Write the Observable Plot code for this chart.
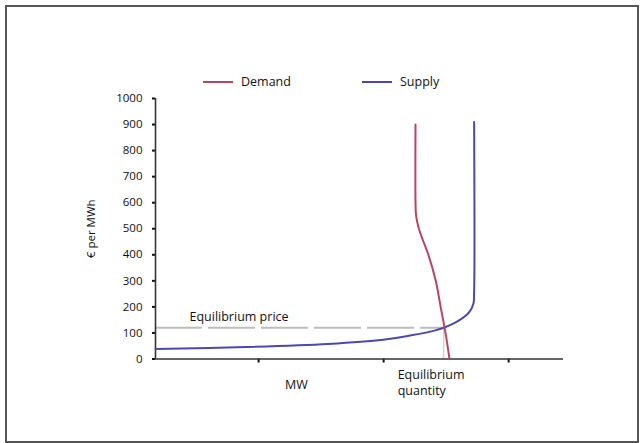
<!DOCTYPE html>
<html>
<head>
<meta charset="utf-8">
<script src="https://cdn.jsdelivr.net/npm/d3@7"></script>
<script src="https://cdn.jsdelivr.net/npm/@observablehq/plot@0.6"></script>
<style>
  html, body { margin: 0; padding: 0; background: #fff; }
  body { width: 642px; height: 443px; position: relative; overflow: hidden; font-family: "Open Sans", sans-serif; }
  #chart { position: absolute; left: 0; top: 0; }
  #frame { position: absolute; left: 5px; top: 5px; width: 630px; height: 434px; border: 2px solid #555; box-sizing: content-box; pointer-events: none; }
  .legend { position: absolute; top: 73px; font-size: 12.5px; color: #111; display: flex; align-items: center; }
  .legend .sw { display: inline-block; width: 30px; height: 0; border-top: 2.5px solid; margin-right: 8px; }
</style>
</head>
<body>
<div id="chart"></div>
<div id="frame"></div>
<div class="legend" id="leg-demand" style="left:203px"><span class="sw"></span><span class="lbl"></span></div>
<div class="legend" id="leg-supply" style="left:362px"><span class="sw"></span><span class="lbl"></span></div>
<script>
// Series names and colours
const seriesNames = ["Demand", "Supply"];
const seriesColors = ["#b9455f", "#4b47b3"];

// Demand curve: quantity (MW) and price (€ per MWh)
const demandMW    = [2080, 2080, 2083, 2092, 2107, 2140, 2183, 2242, 2281, 2320, 2352];
const demandPrice = [ 900,  600,  560,  530,  500,  455,  400,  300,  200,  100,    0];

// Supply curve: quantity (MW) and price (€ per MWh)
const supplyMW    = [   0,  725, 1380, 1822, 2035, 2232, 2312, 2428, 2510, 2543, 2549, 2549];
const supplyPrice = [  38,   46,   58,   74,   90,  109,  121,  148,  180,  212,  260,  910];

// Equilibrium
const eqPrice = 120;
const eqQuantity = 2305;

// Axis ticks
const yTicks = [0, 100, 200, 300, 400, 500, 600, 700, 800, 900, 1000];
const xTicks = [825, 1825, 2825];
const xDomain = [0, 3264];
const yDomain = [0, 1000];

const demand = demandMW.map((q, i) => ({q, p: demandPrice[i]}));
const supply = supplyMW.map((q, i) => ({q, p: supplyPrice[i]}));

const font = "Open Sans, sans-serif";

const chart = Plot.plot({
  width: 642,
  height: 443,
  marginLeft: 155,
  marginRight: 79,
  marginTop: 98,
  marginBottom: 84.5,
  style: {fontFamily: font, background: "transparent", overflow: "visible"},
  x: {domain: xDomain},
  y: {domain: yDomain},
  marks: [
    Plot.ruleY([eqPrice], {x1: 0, x2: eqQuantity, stroke: "#bdbdbd", strokeWidth: 2, strokeDasharray: "47,6"}),
    Plot.ruleX([eqQuantity], {y1: 0, y2: eqPrice, stroke: "#d0d0d0", strokeWidth: 1.5}),
    Plot.axisY({ticks: yTicks, tickSize: 3, tickPadding: 10, fontSize: 11.5, fill: "#111", stroke: "#111", strokeWidth: 2,
      tickFormat: d => String(d),
      label: "€ per MWh", labelAnchor: "center", labelArrow: "none", labelOffset: 69}),
    Plot.axisX({ticks: xTicks, tickSize: 4, tickFormat: () => "", stroke: "#111", strokeWidth: 2, label: null}),
    Plot.ruleX([0], {stroke: "#333", strokeWidth: 1.6}),
    Plot.ruleY([0], {stroke: "#333", strokeWidth: 1.6}),
    Plot.line(supply, {x: "q", y: "p", curve: "catmull-rom", stroke: seriesColors[1], strokeWidth: 2}),
    Plot.line(demand, {x: "q", y: "p", curve: "catmull-rom", stroke: seriesColors[0], strokeWidth: 2}),
    Plot.text(["Equilibrium price"], {frameAnchor: "left", y: () => eqPrice, dx: 34, dy: -11, textAnchor: "start", fontSize: 12.5, fill: "#111"}),
    Plot.text(["Equilibrium\nquantity"], {x: () => eqQuantity, frameAnchor: "bottom", dx: -46, dy: 9, textAnchor: "start", lineAnchor: "top", lineHeight: 1.25, fontSize: 12.5, fill: "#111"}),
    Plot.text(["MW"], {frameAnchor: "bottom", dx: -63, dy: 21, lineAnchor: "top", fontSize: 12.5, fill: "#111"})
  ]
});
chart.querySelectorAll("[aria-label='y-axis label'] text, g[aria-label='y-axis label']").forEach(el => el.setAttribute("font-size", "11.5"));
document.getElementById("chart").appendChild(chart);

// Legend
["leg-demand", "leg-supply"].forEach((id, i) => {
  const el = document.getElementById(id);
  el.querySelector(".sw").style.borderColor = seriesColors[i];
  el.querySelector(".lbl").textContent = seriesNames[i];
});
</script>
</body>
</html>
